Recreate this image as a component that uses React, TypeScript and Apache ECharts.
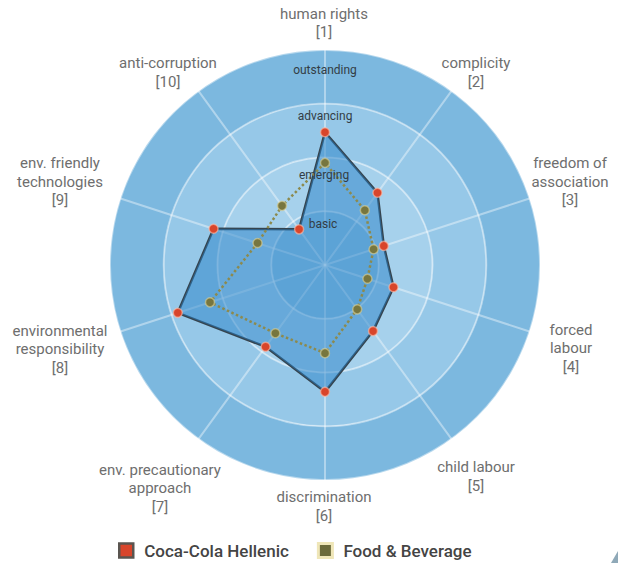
import React, { useEffect, useRef } from "react";
import * as echarts from "echarts";

const indicators = [
  "human rights",
  "complicity",
  "freedom of association",
  "forced labour",
  "child labour",
  "discrimination",
  "env. precautionary approach",
  "environmental responsibility",
  "env. friendly technologies",
  "anti-corruption",
];
const indicatorLabels = [
  "human rights\n[1]",
  "complicity\n[2]",
  "freedom of\nassociation\n[3]",
  "forced\nlabour\n[4]",
  "child labour\n[5]",
  "discrimination\n[6]",
  "env. precautionary\napproach\n[7]",
  "environmental\nresponsibility\n[8]",
  "env. friendly\ntechnologies\n[9]",
  "anti-corruption\n[10]",
];
const levels = ["basic", "emerging", "advancing", "outstanding"];
const seriesNames = ["Coca-Cola Hellenic", "Food & Beverage"];
const cocaCola = [2.47, 1.66, 1.15, 1.34, 1.52, 2.36, 1.88, 2.88, 2.18, 0.82];
const foodBeverage = [1.9, 1.26, 0.95, 0.83, 1.02, 1.64, 1.57, 2.25, 1.32, 1.36];

// ECharts radar lays indicators out counter-clockwise; reorder so they run clockwise.
const order = indicators.map((_, i) => (i === 0 ? 0 : indicators.length - i));
const cw = <T,>(arr: T[]) => order.map((k) => arr[k]);

const nameAnchors = [
  [324, 23],
  [476, 72.5],
  [570, 181.5],
  [571, 348],
  [476, 476.5],
  [324, 506.5],
  [160, 488],
  [60, 349],
  [60, 181.5],
  [168, 72.5],
];
const levelAnchors = [
  [323, 224],
  [324, 175],
  [325, 116],
  [325, 70],
];

export default function App() {
  const ref = useRef<HTMLDivElement>(null);
  useEffect(() => {
    if (!ref.current) return;
    const chart = echarts.init(ref.current, null, { renderer: "svg" });
    const graphic: any[] = [];
    indicatorLabels.forEach((t, i) => {
      graphic.push({
        type: "text",
        x: nameAnchors[i][0],
        y: nameAnchors[i][1],
        style: {
          text: t,
          fill: "#6e6e6e",
          fontFamily: "Roboto",
          fontSize: 15,
          lineHeight: 18.5,
          align: "center",
          verticalAlign: "middle",
        },
        z: 10,
      });
    });
    levels.forEach((t, i) => {
      graphic.push({
        type: "text",
        x: levelAnchors[i][0],
        y: levelAnchors[i][1],
        style: {
          text: t,
          fill: "#333d45",
          fontFamily: "Roboto",
          fontSize: 12,
          align: "center",
          verticalAlign: "middle",
        },
        z: 10,
      });
    });
    graphic.push({
      type: "polygon",
      shape: { points: [[618, 551], [618, 563], [611, 563]] },
      style: { fill: "#8fa9b8" },
    });

    chart.setOption({
      animation: false,
      backgroundColor: "#ffffff",
      textStyle: { fontFamily: "Roboto" },
      radar: {
        center: [325, 265],
        radius: 215,
        startAngle: 90,
        shape: "circle",
        splitNumber: 4,
        indicator: cw(indicators).map((n) => ({ name: n, min: 0, max: 4 })),
        axisName: { show: false },
        axisLabel: { show: false },
        axisTick: { show: false },
        splitArea: {
          show: true,
          areaStyle: { color: ["#90c4e5", "#a6d1ec", "#96c8e8", "#7cb8df"] },
        },
        splitLine: {
          lineStyle: { color: "rgba(255,255,255,0.45)", width: 2 },
        },
        axisLine: {
          lineStyle: { color: "rgba(255,255,255,0.4)", width: 2 },
        },
      },
      legend: {
        left: 113,
        top: 537,
        itemWidth: 14,
        itemHeight: 14,
        itemGap: 28,
        textStyle: {
          fontFamily: "Roboto",
          fontSize: 17,
          fontWeight: 500,
          color: "#444",
          padding: [0, 0, 0, 6],
        },
        data: [
          {
            name: seriesNames[0],
            icon: "rect",
            itemStyle: { color: "#d8452b", borderColor: "#5a5550", borderWidth: 2.5 },
          },
          {
            name: seriesNames[1],
            icon: "rect",
            itemStyle: { color: "#6b6a3a", borderColor: "#efe6b8", borderWidth: 3 },
          },
        ],
      },
      graphic,
      series: [
        {
          type: "radar",
          name: seriesNames[0],
          z: 2,
          symbol: "circle",
          symbolSize: 9,
          lineStyle: { color: "#36444e", width: 2.5 },
          itemStyle: {
            color: "#d8452b",
            borderColor: "rgba(255,190,170,0.6)",
            borderWidth: 1.5,
          },
          areaStyle: { color: "#2882c8", opacity: 0.5 },
          data: [{ name: seriesNames[0], value: cw(cocaCola) }],
        },
        {
          type: "radar",
          name: seriesNames[1],
          z: 3,
          symbol: "circle",
          symbolSize: 9,
          lineStyle: { color: "#8c8a4e", width: 2.5, type: "dotted" },
          itemStyle: {
            color: "#77763f",
            borderColor: "rgba(220,210,150,0.6)",
            borderWidth: 1.5,
          },
          data: [{ name: seriesNames[1], value: cw(foodBeverage) }],
        },
      ],
    });
    return () => chart.dispose();
  }, []);
  return (
    <div
      ref={ref}
      style={{ position: "fixed", left: 0, top: 0, width: 618, height: 563 }}
    />
  );
}
